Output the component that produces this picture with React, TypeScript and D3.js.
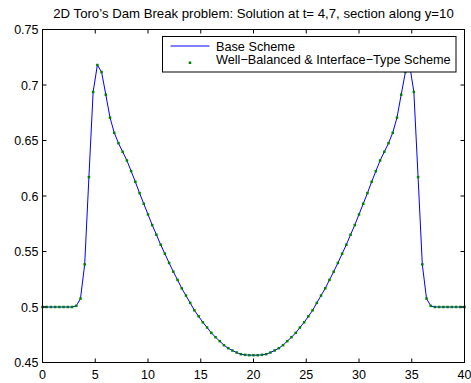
import React from "react";
import * as d3 from "d3";

const xValues: number[] = Array.from({ length: 101 }, (_, i) => +(i * 0.4).toFixed(1));

const baseScheme: number[] = [
  0.5, 0.5, 0.5, 0.5, 0.5, 0.5, 0.5, 0.5, 0.501, 0.5076,
  0.5384, 0.617, 0.6937, 0.718, 0.7117, 0.6913, 0.6706, 0.657, 0.6476, 0.6398,
  0.632, 0.6224, 0.6128, 0.6026, 0.593, 0.5834, 0.5738, 0.5651, 0.5561, 0.548,
  0.5397, 0.5318, 0.5244, 0.5168, 0.5103, 0.5037, 0.497, 0.4916, 0.4862, 0.4815,
  0.4767, 0.4728, 0.4692, 0.4656, 0.4629, 0.4608, 0.459, 0.4575, 0.4569, 0.4566,
  0.4566,
  0.4566, 0.4569, 0.4575, 0.459, 0.4608, 0.4629, 0.4656, 0.4692, 0.4728, 0.4767,
  0.4815, 0.4862, 0.4916, 0.497, 0.5037, 0.5103, 0.5168, 0.5244, 0.5318, 0.5397,
  0.548, 0.5561, 0.5651, 0.5738, 0.5834, 0.593, 0.6026, 0.6128, 0.6224, 0.632,
  0.6398, 0.6476, 0.657, 0.6706, 0.6913, 0.7117, 0.718, 0.6937, 0.617, 0.5384,
  0.5076, 0.501, 0.5, 0.5, 0.5, 0.5, 0.5, 0.5, 0.5, 0.5,
];

const wellBalanced: number[] = [
  0.5, 0.5, 0.5, 0.5, 0.5, 0.5, 0.5, 0.5, 0.501, 0.5076,
  0.5384, 0.617, 0.6937, 0.718, 0.7117, 0.6913, 0.6706, 0.657, 0.6476, 0.6398,
  0.632, 0.6224, 0.6128, 0.6026, 0.593, 0.5834, 0.5738, 0.5651, 0.5561, 0.548,
  0.5397, 0.5318, 0.5244, 0.5168, 0.5103, 0.5037, 0.497, 0.4916, 0.4862, 0.4815,
  0.4767, 0.4728, 0.4692, 0.4656, 0.4629, 0.4608, 0.459, 0.4575, 0.4569, 0.4566,
  0.4566,
  0.4566, 0.4569, 0.4575, 0.459, 0.4608, 0.4629, 0.4656, 0.4692, 0.4728, 0.4767,
  0.4815, 0.4862, 0.4916, 0.497, 0.5037, 0.5103, 0.5168, 0.5244, 0.5318, 0.5397,
  0.548, 0.5561, 0.5651, 0.5738, 0.5834, 0.593, 0.6026, 0.6128, 0.6224, 0.632,
  0.6398, 0.6476, 0.657, 0.6706, 0.6913, 0.7117, 0.718, 0.6937, 0.617, 0.5384,
  0.5076, 0.501, 0.5, 0.5, 0.5, 0.5, 0.5, 0.5, 0.5, 0.5,
];

const xTicks: number[] = [0, 5, 10, 15, 20, 25, 30, 35, 40];
const yTicks: number[] = [0.45, 0.5, 0.55, 0.6, 0.65, 0.7, 0.75];
const yTickLabels: string[] = ["0.45", "0.5", "0.55", "0.6", "0.65", "0.7", "0.75"];
const seriesNames: string[] = ["Base Scheme", "Well\u2212Balanced & Interface\u2212Type Scheme"];
const title = "2D Toro\u2019s Dam Break problem: Solution at t= 4,7, section along y=10";

const W = 471;
const H = 383;
const L = 42.5;
const R = 464.5;
const T = 29.5;
const B = 362.5;
const FONT = "'Liberation Sans', Arial, Helvetica, sans-serif";

export default function App() {
  const x = d3.scaleLinear().domain([0, 40]).range([L, R]);
  const y = d3.scaleLinear().domain([0.45, 0.75]).range([B, T]);
  const line = d3
    .line<number>()
    .x((_, i) => x(xValues[i]))
    .y((d) => y(d));
  const tl = 4;
  const fs = 12.5;
  const lfs = 12.7;
  return (
    <svg
      width={W}
      height={H}
      style={{ position: "absolute", left: 0, top: 0, background: "#fff" }}
      fontFamily={FONT}
    >
      <rect x={0} y={0} width={W} height={H} fill="#fff" />
      <text x={(L + R) / 2} y={18} fontSize={13.2} textAnchor="middle" fill="#000">
        {title}
      </text>
      <path d={line(baseScheme) ?? ""} fill="none" stroke="#0000ff" strokeWidth={1} />
      {wellBalanced.map((v, i) => (
        <rect
          key={i}
          x={x(xValues[i]) - 1.25}
          y={y(v) - 1.25}
          width={2.5}
          height={2.5}
          fill="#008000"
        />
      ))}
      <rect x={L} y={T} width={R - L} height={B - T} fill="none" stroke="#000" strokeWidth={1} />
      {xTicks.map((t) => (
        <g key={"x" + t}>
          <line x1={x(t)} x2={x(t)} y1={B} y2={B - tl} stroke="#000" />
          <line x1={x(t)} x2={x(t)} y1={T} y2={T + tl} stroke="#000" />
          <text x={x(t)} y={B + 16.5} fontSize={fs} textAnchor="middle" fill="#000">
            {t}
          </text>
        </g>
      ))}
      {yTicks.map((t, i) => (
        <g key={"y" + t}>
          <line x1={L} x2={L + tl} y1={y(t)} y2={y(t)} stroke="#000" />
          <line x1={R} x2={R - tl} y1={y(t)} y2={y(t)} stroke="#000" />
          <text x={L - 4} y={y(t) + 4.5} fontSize={fs} textAnchor="end" fill="#000">
            {yTickLabels[i]}
          </text>
        </g>
      ))}
      <g>
        <rect x={162.5} y={36.5} width={293.5} height={35.5} fill="#fff" stroke="#000" strokeWidth={1} />
        <line x1={170.5} x2={209.5} y1={46} y2={46} stroke="#0000ff" strokeWidth={1} />
        <text x={216} y={50.7} fontSize={lfs} fill="#000">
          {seriesNames[0]}
        </text>
        <rect x={188.75} y={61.5} width={2.5} height={2.5} fill="#008000" />
        <text x={216} y={64.2} fontSize={lfs} fill="#000">
          {seriesNames[1]}
        </text>
      </g>
    </svg>
  );
}
